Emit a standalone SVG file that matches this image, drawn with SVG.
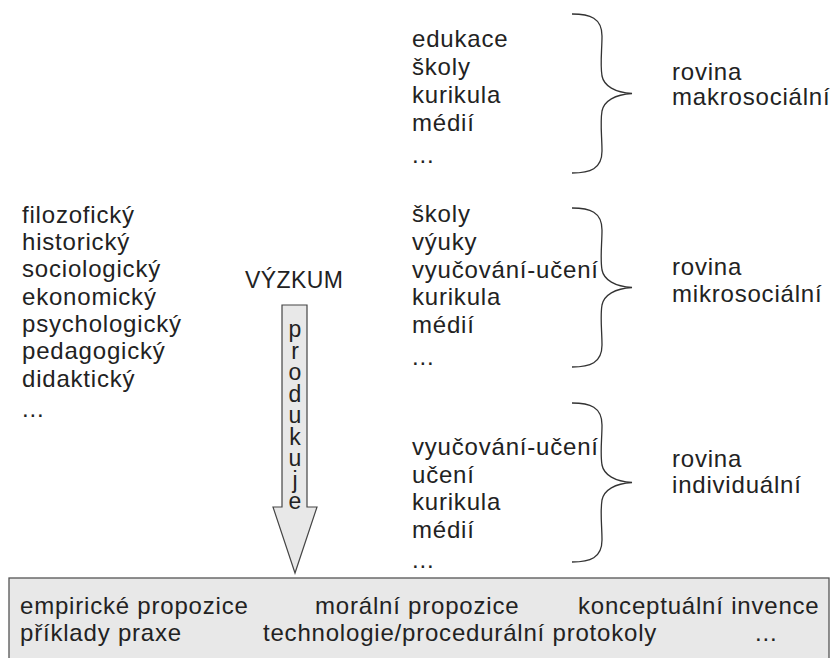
<svg xmlns="http://www.w3.org/2000/svg" width="832" height="658" viewBox="0 0 832 658">
<style>
text{font-family:"Liberation Sans",Arial,sans-serif;font-size:24px;fill:#222;letter-spacing:0.8px}
.brace{fill:none;stroke:#333;stroke-width:1.3}
.vert{writing-mode:vertical-rl;text-orientation:upright;font-size:23px;letter-spacing:-4.5px}
</style>
<defs>
<path id="brace" class="brace" d="M0,0 C18,0 30,4 30,22 C30,36 28,50 30,62 C32,72 43,78.5 60,79.5 C43,80.5 32,87 30,97 C28,109 30,123 30,137 C30,155 18,159 0,159"/>
</defs>
<rect width="832" height="658" fill="#fff"/>
<g id="disciplines">
<text x="22" y="223">filozofický</text>
<text x="22" y="250">historický</text>
<text x="22" y="277">sociologický</text>
<text x="22" y="305">ekonomický</text>
<text x="22" y="332">psychologický</text>
<text x="22" y="359">pedagogický</text>
<text x="22" y="387">didaktický</text>
<text x="22" y="417">...</text>
</g>
<g id="vyzkum">
<text x="245" y="288" style="font-size:23px;letter-spacing:0.4px">VÝZKUM</text>
</g>
<g id="arrow">
<path d="M282,305 L307,305 L307,507 L317,507 L295,573 L273,507 L282,507 Z" fill="#e8e8e8" stroke="#444" stroke-width="1.2"/>
<text class="vert" x="295" y="316">produkuje</text>
</g>
<g id="group-makro">
<text x="412" y="47">edukace</text>
<text x="412" y="75">školy</text>
<text x="412" y="103">kurikula</text>
<text x="412" y="131">médií</text>
<text x="412" y="163">...</text>
</g>
<g id="group-mikro">
<text x="412" y="222">školy</text>
<text x="412" y="250">výuky</text>
<text x="412" y="278">vyučování-učení</text>
<text x="412" y="305">kurikula</text>
<text x="412" y="333">médií</text>
<text x="412" y="365">...</text>
</g>
<g id="group-individ">
<text x="412" y="455">vyučování-učení</text>
<text x="412" y="483">učení</text>
<text x="412" y="510">kurikula</text>
<text x="412" y="538">médií</text>
<text x="412" y="568">...</text>
</g>
<g id="connectors">
<use href="#brace" transform="translate(572,14)"/>
<use href="#brace" transform="translate(572,208)"/>
<use href="#brace" transform="translate(572,403)"/>
</g>
<g id="label-makro">
<text x="672" y="80">rovina</text>
<text x="672" y="105">makrosociální</text>
</g>
<g id="label-mikro">
<text x="672" y="275">rovina</text>
<text x="672" y="302">mikrosociální</text>
</g>
<g id="label-individ">
<text x="672" y="467">rovina</text>
<text x="672" y="493">individuální</text>
</g>
<g id="outputs">
<rect x="9" y="578" width="820" height="90" fill="#e8e8e8" stroke="#555" stroke-width="1.3"/>
<text x="20" y="614">empirické propozice</text>
<text x="315" y="614">morální propozice</text>
<text x="578" y="614">konceptuální invence</text>
<text x="20" y="641">příklady praxe</text>
<text x="263" y="641">technologie/procedurální protokoly</text>
<text x="755" y="641">...</text>
</g>
</svg>
